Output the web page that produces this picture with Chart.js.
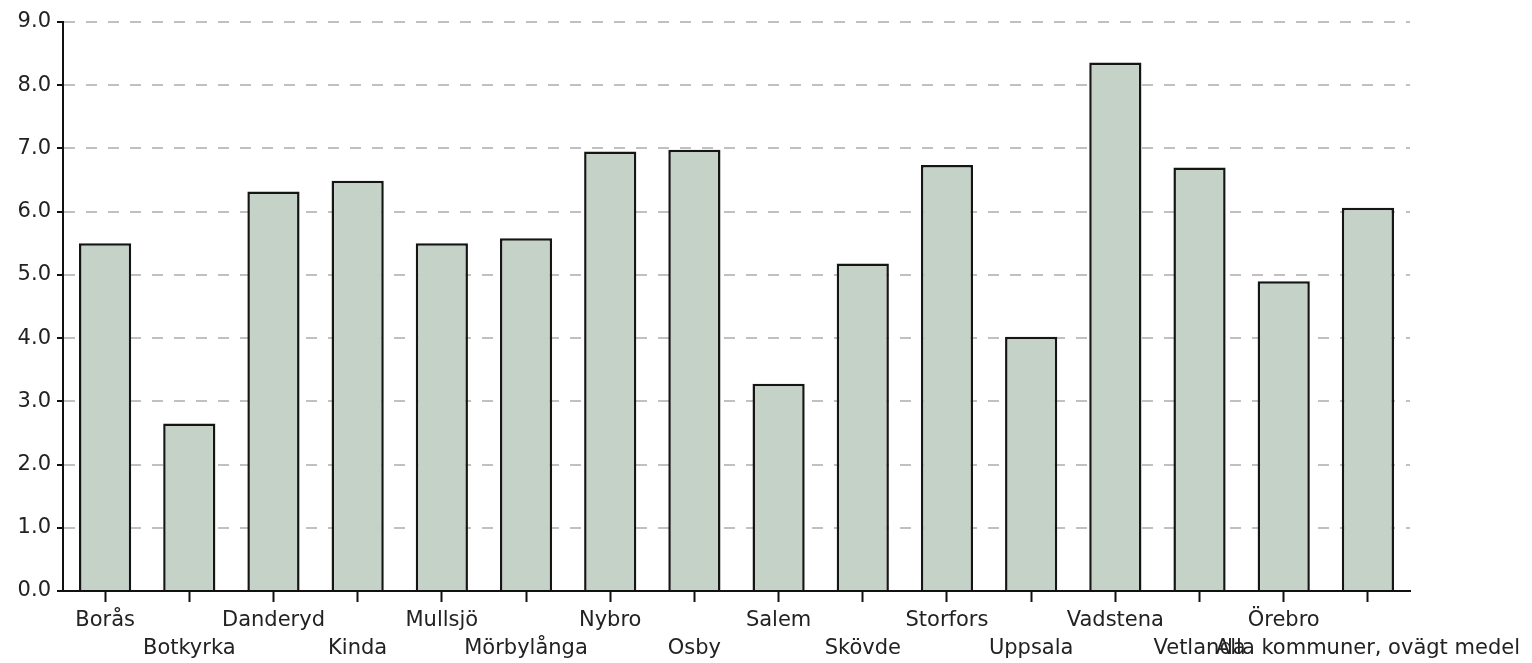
<!DOCTYPE html>
<html>
<head>
<meta charset="utf-8">
<script src="https://cdn.jsdelivr.net/npm/chart.js@4/dist/chart.umd.min.js"></script>
<style>
  html, body { margin: 0; padding: 0; background: #fff; }
  #wrap { width: 1532px; height: 663px; position: relative; }
</style>
</head>
<body>
<div id="wrap"><canvas id="c"></canvas></div>
<script>
const categories = ["Borås", "Botkyrka", "Danderyd", "Kinda", "Mullsjö", "Mörbylånga", "Nybro", "Osby", "Salem", "Skövde", "Storfors", "Uppsala", "Vadstena", "Vetlanda", "Örebro", "Alla kommuner, ovägt medel"];
const values = [5.50, 2.65, 6.32, 6.49, 5.50, 5.58, 6.95, 6.98, 3.28, 5.18, 6.74, 4.02, 8.36, 6.70, 4.90, 6.06];
const yTicks = [0, 1, 2, 3, 4, 5, 6, 7, 8, 9];

// staggered labels: odd categories go on a second row
const labels = categories.map((c, i) => i % 2 === 0 ? [c] : ["", c]);

const FONT = "'DejaVu Sans', Verdana, sans-serif";

new Chart(document.getElementById('c'), {
  type: 'bar',
  data: {
    labels: labels,
    datasets: [{
      data: values,
      backgroundColor: '#c5d2c7',
      borderColor: '#151515',
      borderWidth: 2.5,
      barPercentage: 0.62,
      categoryPercentage: 1.0
    }]
  },
  options: {
    responsive: true,
    maintainAspectRatio: false,
    animation: false,
    layout: { padding: { left: 0, top: 22, right: 122, bottom: 0 } },
    plugins: { legend: { display: false }, tooltip: { enabled: false } },
    scales: {
      x: {
        offset: true,
        grid: {
          offset: false,
          drawOnChartArea: false,
          drawTicks: true,
          tickLength: 11,
          tickColor: '#111',
          tickWidth: 2
        },
        border: { display: true, color: '#111', width: 2 },
        ticks: {
          autoSkip: false,
          maxRotation: 0,
          minRotation: 0,
          padding: 4,
          color: '#222',
          font: { family: FONT, size: 21, lineHeight: 1.35 }
        },
        afterFit: (s) => { s.height = 72; s.paddingLeft = 0; s.paddingRight = 0; }
      },
      y: {
        min: 0,
        max: 9,
        afterBuildTicks: (s) => { s.ticks = yTicks.map(v => ({ value: v })); },
        grid: {
          color: (ctx) => (ctx.tick && ctx.tick.value === 0) ? 'rgba(0,0,0,0)' : '#c0c0c0',
          lineWidth: 2,
          drawTicks: true,
          tickLength: 6,
          tickColor: '#111',
          tickWidth: 2,
          tickBorderDash: []
        },
        border: { display: true, color: '#111', width: 2, dash: [11, 11] },
        ticks: {
          padding: 6,
          color: '#222',
          font: { family: FONT, size: 21 },
          callback: (v) => Number(v).toFixed(1)
        },
        afterFit: (s) => { s.width = 63; s.paddingTop = 0; s.paddingBottom = 0; }
      }
    }
  }
});
</script>
</body>
</html>
